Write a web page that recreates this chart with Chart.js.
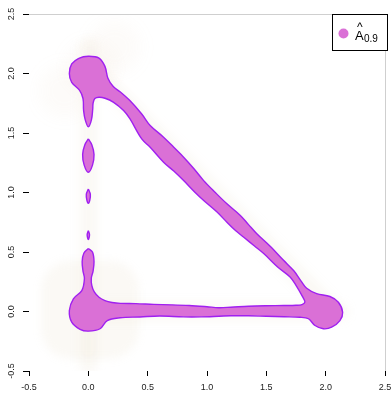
<!DOCTYPE html>
<html>
<head>
<meta charset="utf-8">
<script src="https://cdn.jsdelivr.net/npm/chart.js@4.4.1/dist/chart.umd.min.js"></script>
<style>
  html, body { margin: 0; padding: 0; background: #ffffff; }
  #wrap { width: 392px; height: 393px; }
</style>
</head>
<body>
<div id="wrap"><canvas id="c" width="392" height="393"></canvas></div>
<script>
// Axis ticks
const xTicks = [-0.5, 0.0, 0.5, 1.0, 1.5, 2.0, 2.5];
const yTicks = [-0.5, 0.0, 0.5, 1.0, 1.5, 2.0, 2.5];

// Level set outline: main connected piece (x, y pairs)
const mainRegion = [
  [0.00, 0.53], [0.035, 0.50], [0.048, 0.42], [0.040, 0.34], [0.025, 0.28],
  [0.029, 0.22], [0.050, 0.165], [0.090, 0.120], [0.140, 0.092], [0.200, 0.076],
  [0.270, 0.068], [0.400, 0.066], [0.550, 0.060], [0.700, 0.056], [0.850, 0.050],
  [1.000, 0.040], [1.100, 0.032], [1.200, 0.036], [1.350, 0.044], [1.500, 0.048],
  [1.650, 0.050], [1.750, 0.052], [1.800, 0.058], [1.825, 0.080], [1.805, 0.125],
  [1.750, 0.220], [1.700, 0.290], [1.600, 0.370], [1.480, 0.485], [1.400, 0.550],
  [1.310, 0.624], [1.240, 0.680], [1.168, 0.750], [1.080, 0.840], [0.972, 0.933],
  [0.900, 1.000], [0.803, 1.100], [0.720, 1.180], [0.634, 1.255], [0.521, 1.381],
  [0.450, 1.450], [0.350, 1.620], [0.297, 1.689], [0.210, 1.760], [0.140, 1.792],
  [0.090, 1.800], [0.055, 1.790], [0.040, 1.750], [0.037, 1.700], [0.026, 1.610],
  [0.000, 1.552], [-0.026, 1.610], [-0.040, 1.690], [-0.045, 1.790], [-0.075, 1.860],
  [-0.140, 1.925], [-0.160, 2.000], [-0.140, 2.080], [-0.080, 2.128], [0.000, 2.145],
  [0.090, 2.130], [0.140, 2.060], [0.165, 1.960], [0.210, 1.890], [0.270, 1.845],
  [0.350, 1.773], [0.450, 1.660], [0.521, 1.563], [0.634, 1.465], [0.720, 1.380],
  [0.803, 1.297], [0.890, 1.200], [0.972, 1.100], [1.070, 1.000], [1.168, 0.905],
  [1.281, 0.807], [1.350, 0.730], [1.420, 0.653], [1.530, 0.550], [1.645, 0.430],
  [1.730, 0.344], [1.790, 0.260], [1.840, 0.195], [1.924, 0.150], [2.036, 0.126],
  [2.107, 0.078], [2.143, -0.006], [2.120, -0.076], [2.050, -0.132], [1.980, -0.145],
  [1.910, -0.118], [1.855, -0.061], [1.784, -0.048], [1.650, -0.044], [1.500, -0.040],
  [1.350, -0.036], [1.200, -0.036], [1.100, -0.040], [0.950, -0.045], [0.800, -0.045],
  [0.600, -0.038], [0.436, -0.046], [0.267, -0.053], [0.160, -0.076], [0.099, -0.145],
  [0.000, -0.165], [-0.070, -0.150], [-0.140, -0.090], [-0.160, 0.008], [-0.126, 0.107],
  [-0.055, 0.176], [-0.033, 0.275], [-0.045, 0.340], [-0.052, 0.420], [-0.038, 0.490],
  [0.00, 0.53]
];

// Level set outline: isolated pieces along x = 0
const islandUpper = [
  [0.000, 1.450], [0.030, 1.400], [0.048, 1.320], [0.035, 1.230], [0.000, 1.170],
  [-0.035, 1.230], [-0.048, 1.320], [-0.030, 1.400], [0.000, 1.450]
];
const islandMiddle = [
  [0.000, 1.030], [0.017, 0.985], [0.012, 0.935], [0.000, 0.910],
  [-0.012, 0.935], [-0.017, 0.985], [0.000, 1.030]
];
const islandLower = [
  [0.000, 0.680], [0.010, 0.645], [0.000, 0.605], [-0.010, 0.645], [0.000, 0.680]
];

// Faint sample cloud: band paths and block centres
const cloudVertical = [[0.0, -0.45], [0.0, 2.22]];
const cloudBottom = [[-0.05, 0.0], [2.12, 0.0]];
const cloudDiagonal = [[2.05, 0.02], [0.05, 2.02]];
const cloudSquare = [[0.015, 0.015]];
const cloudTop = [[0.02, 2.05], [0.22, 2.22], [-0.2, 1.85]];

const toXY = arr => arr.map(p => ({ x: p[0], y: p[1] }));

const FILL = '#DA70D6';
const EDGE = '#A020F0';
const HAZE = 'rgba(215, 195, 160, 0.10)';
const HAZE_SOFT = 'rgba(215, 195, 160, 0.06)';

function regionDataset(points) {
  return {
    type: 'line',
    data: toXY(points),
    showLine: true,
    borderColor: EDGE,
    borderWidth: 1.4,
    backgroundColor: FILL,
    fill: 'shape',
    tension: 0.35,
    pointRadius: 0,
    order: 1,
    clip: false
  };
}

function cloudBand(points) {
  return {
    type: 'line',
    data: toXY(points),
    showLine: true,
    borderColor: HAZE,
    borderWidth: 18,
    borderCapStyle: 'round',
    fill: false,
    pointRadius: 0,
    order: 5,
    haze: 5
  };
}

// Blur only the faint cloud layers
const hazeBlur = {
  id: 'hazeBlur',
  beforeDatasetDraw(chart, args) {
    const ds = chart.data.datasets[args.index];
    if (ds.haze) chart.ctx.filter = 'blur(' + ds.haze + 'px)';
  },
  afterDatasetDraw(chart) {
    chart.ctx.filter = 'none';
  }
};

// Frame lines, rotated y labels and legend box
const decor = {
  id: 'decor',
  afterDraw(chart) {
    const ctx = chart.ctx;
    const a = chart.chartArea;
    const ys = chart.scales.y;
    ctx.save();
    ctx.strokeStyle = '#cfcfcf';
    ctx.lineWidth = 1;
    ctx.beginPath();
    ctx.moveTo(a.left, a.top + 0.5);
    ctx.lineTo(a.right + 0.5, a.top + 0.5);
    ctx.lineTo(a.right + 0.5, a.bottom);
    ctx.stroke();

    ctx.fillStyle = '#222222';
    ctx.font = '9px "Liberation Sans", Arial, sans-serif';
    ctx.textAlign = 'center';
    ctx.textBaseline = 'middle';
    yTicks.forEach(v => {
      const py = ys.getPixelForValue(v);
      ctx.save();
      ctx.translate(12, py);
      ctx.rotate(-Math.PI / 2);
      ctx.fillText(v.toFixed(1), 0, 0);
      ctx.restore();
    });

    // legend
    const bx = 332.5, by = 14.5, bw = 55, bh = 36;
    ctx.fillStyle = '#ffffff';
    ctx.fillRect(bx, by, bw, bh);
    ctx.strokeStyle = '#000000';
    ctx.lineWidth = 1;
    ctx.strokeRect(bx, by, bw, bh);
    ctx.fillStyle = FILL;
    ctx.beginPath();
    ctx.arc(343.5, 33.5, 5, 0, Math.PI * 2);
    ctx.fill();
    ctx.fillStyle = '#000000';
    ctx.textAlign = 'left';
    ctx.textBaseline = 'alphabetic';
    ctx.font = '13px "Liberation Sans", Arial, sans-serif';
    ctx.fillText('A', 355, 40);
    ctx.font = '12px "Liberation Sans", Arial, sans-serif';
    ctx.fillText('^', 357, 31);
    ctx.font = '10px "Liberation Sans", Arial, sans-serif';
    ctx.fillText('0.9', 364, 42);
    ctx.restore();
  }
};

new Chart(document.getElementById('c'), {
  type: 'scatter',
  data: {
    datasets: [
      regionDataset(mainRegion),
      regionDataset(islandUpper),
      regionDataset(islandMiddle),
      regionDataset(islandLower),
      cloudBand(cloudVertical),
      cloudBand(cloudBottom),
      cloudBand(cloudDiagonal),
      {
        type: 'scatter',
        data: toXY(cloudSquare),
        pointStyle: 'rectRounded',
        pointRadius: 57,
        backgroundColor: HAZE,
        borderWidth: 0,
        order: 6,
        haze: 4
      },
      {
        type: 'scatter',
        data: toXY(cloudTop),
        pointStyle: 'circle',
        pointRadius: 26,
        backgroundColor: HAZE_SOFT,
        borderWidth: 0,
        order: 6,
        haze: 8
      }
    ]
  },
  options: {
    responsive: false,
    animation: false,
    events: [],
    layout: { autoPadding: false, padding: { top: 14, right: 7, left: 0, bottom: 0 } },
    plugins: { legend: { display: false }, tooltip: { enabled: false } },
    scales: {
      x: {
        type: 'linear',
        min: -0.5, max: 2.5,
        afterBuildTicks: s => { s.ticks = xTicks.map(v => ({ value: v })); },
        afterFit: s => { s.height = 22; s.paddingLeft = 0; s.paddingRight = 0; },
        border: { display: false },
        grid: { drawOnChartArea: false, drawTicks: true, tickLength: 5, color: '#000000', tickWidth: 1 },
        ticks: {
          color: '#222222',
          font: { family: '"Liberation Sans", Arial, sans-serif', size: 9 },
          padding: 6,
          maxRotation: 0,
          callback: v => Number(v).toFixed(1)
        }
      },
      y: {
        type: 'linear',
        min: -0.5, max: 2.5,
        afterBuildTicks: s => { s.ticks = yTicks.map(v => ({ value: v })); },
        afterFit: s => { s.width = 29; s.paddingTop = 0; s.paddingBottom = 0; },
        border: { display: false },
        grid: { drawOnChartArea: false, drawTicks: true, tickLength: 6, color: '#000000', tickWidth: 1 },
        ticks: { display: false }
      }
    }
  },
  plugins: [hazeBlur, decor]
});
</script>
</body>
</html>
